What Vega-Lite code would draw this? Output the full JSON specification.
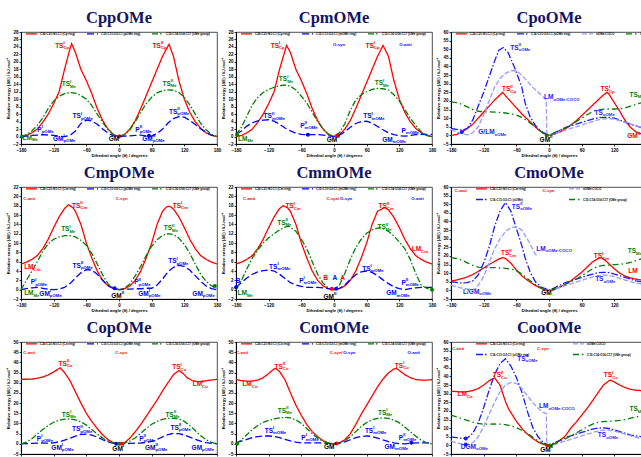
{
"$schema":"https://vega.github.io/schema/vega-lite/v6.json",
"padding":{"left":6,"top":9,"right":5,"bottom":5},
"datasets":{
"c":[
{"p":"CppOMe","x":-180,"r":0,"b":0,"g":0},{"p":"CppOMe","x":-170,"r":0.3,"b":0.1,"g":0.5},{"p":"CppOMe","x":-160,"r":1,"b":0.3,"g":1.5},{"p":"CppOMe","x":-150,"r":2,"b":0.4,"g":3},{"p":"CppOMe","x":-140,"r":3.8,"b":0.5,"g":5},{"p":"CppOMe","x":-130,"r":6,"b":0.4,"g":7.5},{"p":"CppOMe","x":-120,"r":8.8,"b":0.3,"g":9.5},{"p":"CppOMe","x":-110,"r":12,"b":0.1,"g":10.8},{"p":"CppOMe","x":-100,"r":18,"b":0,"g":11.5},{"p":"CppOMe","x":-90,"r":23.5,"b":0.3,"g":11.8},{"p":"CppOMe","x":-87,"r":24.9},{"p":"CppOMe","x":-80,"r":22.5,"b":1.5,"g":11.6},{"p":"CppOMe","x":-70,"r":18,"b":3.5,"g":11},{"p":"CppOMe","x":-60,"r":15,"b":4.4,"g":10},{"p":"CppOMe","x":-50,"r":11.5,"b":4.2,"g":8.3},{"p":"CppOMe","x":-40,"r":7.5,"b":3.3,"g":6},{"p":"CppOMe","x":-30,"r":4.3,"b":2,"g":3.8},{"p":"CppOMe","x":-20,"r":2,"b":0.9,"g":1.8},{"p":"CppOMe","x":-10,"r":0.5,"b":0.2,"g":0.5},{"p":"CppOMe","x":0,"r":0,"b":0,"g":0},{"p":"CppOMe","x":10,"r":0.5,"b":0.1,"g":0.5},{"p":"CppOMe","x":20,"r":2,"b":0.2,"g":1.8},{"p":"CppOMe","x":30,"r":4.3,"b":0.3,"g":4},{"p":"CppOMe","x":40,"r":7.5,"b":0.4,"g":6.5},{"p":"CppOMe","x":50,"r":11,"b":0.2,"g":8.8},{"p":"CppOMe","x":60,"r":14.5,"b":0.1,"g":10.5},{"p":"CppOMe","x":70,"r":18,"b":0.8,"g":11.7},{"p":"CppOMe","x":80,"r":21.5,"b":2,"g":12.3},{"p":"CppOMe","x":90,"r":24.2,"b":3.6,"g":12.5},{"p":"CppOMe","x":92,"r":24.7},{"p":"CppOMe","x":100,"r":21.5,"b":4.8,"g":12.4},{"p":"CppOMe","x":110,"r":15,"b":5.3,"g":11.8},{"p":"CppOMe","x":120,"r":10,"b":5.2,"g":10.5},{"p":"CppOMe","x":130,"r":6.5,"b":4.3,"g":8.5},{"p":"CppOMe","x":140,"r":4,"b":3.2,"g":6},{"p":"CppOMe","x":150,"r":2.2,"b":2.1,"g":3.5},{"p":"CppOMe","x":160,"r":1,"b":1.1,"g":1.8},{"p":"CppOMe","x":170,"r":0.3,"b":0.4,"g":0.6},{"p":"CppOMe","x":180,"r":0,"b":0,"g":0},

{"p":"CpmOMe","x":-180,"r":0,"b":0.6,"g":0.5},{"p":"CpmOMe","x":-170,"r":0.3,"b":1.5,"g":2.5},{"p":"CpmOMe","x":-160,"r":1,"b":2.8,"g":5.5},{"p":"CpmOMe","x":-150,"r":2,"b":3.7,"g":8.5},{"p":"CpmOMe","x":-140,"r":3.8,"b":4.2,"g":10.5},{"p":"CpmOMe","x":-130,"r":6,"b":4.4,"g":11.8},{"p":"CpmOMe","x":-120,"r":8.8,"b":4.5,"g":12.6},{"p":"CpmOMe","x":-110,"r":12,"b":4.1,"g":13.2},{"p":"CpmOMe","x":-100,"r":18,"b":3.3,"g":13.6},{"p":"CpmOMe","x":-90,"r":23,"b":2.3,"g":13.8},{"p":"CpmOMe","x":-87,"r":24.4},{"p":"CpmOMe","x":-80,"r":22.5,"b":1.5,"g":13.5},{"p":"CpmOMe","x":-70,"r":18,"b":0.9,"g":12.5},{"p":"CpmOMe","x":-60,"r":15,"b":0.6,"g":10.8},{"p":"CpmOMe","x":-50,"r":11.5,"b":0.5,"g":9},{"p":"CpmOMe","x":-40,"r":7.5,"b":0.5,"g":6.5},{"p":"CpmOMe","x":-30,"r":4.3,"b":0.5,"g":4},{"p":"CpmOMe","x":-20,"r":2,"b":0.4,"g":2},{"p":"CpmOMe","x":-10,"r":0.5,"b":0.2,"g":0.6},{"p":"CpmOMe","x":0,"r":0,"b":0,"g":0},{"p":"CpmOMe","x":10,"r":0.5,"b":0.4,"g":1},{"p":"CpmOMe","x":20,"r":2,"b":1.3,"g":3.5},{"p":"CpmOMe","x":30,"r":4.3,"b":2.5,"g":7},{"p":"CpmOMe","x":40,"r":7.5,"b":3.5,"g":9.8},{"p":"CpmOMe","x":50,"r":11,"b":4,"g":11.2},{"p":"CpmOMe","x":60,"r":14.5,"b":4.1,"g":12},{"p":"CpmOMe","x":70,"r":18,"b":3.6,"g":12.6},{"p":"CpmOMe","x":80,"r":21.5,"b":2.7,"g":12.9},{"p":"CpmOMe","x":90,"r":24.4,"b":1.8,"g":12.8},{"p":"CpmOMe","x":100,"r":21.5,"b":1,"g":12.5},{"p":"CpmOMe","x":110,"r":15,"b":0.5,"g":11.2},{"p":"CpmOMe","x":120,"r":10,"b":0.2,"g":9.5},{"p":"CpmOMe","x":130,"r":6.5,"b":0.1,"g":7.2},{"p":"CpmOMe","x":140,"r":4,"b":0.3,"g":5},{"p":"CpmOMe","x":150,"r":2.2,"b":0.5,"g":3},{"p":"CpmOMe","x":160,"r":1,"b":0.6,"g":1.3},{"p":"CpmOMe","x":170,"r":0.3,"b":0.6,"g":0.3},{"p":"CpmOMe","x":180,"r":0,"b":0.6,"g":0},

{"p":"CpoOMe","x":-180,"r":0,"b":4,"l":3.5,"g":19.5},{"p":"CpoOMe","x":-170,"r":0.5,"b":3.5,"l":2,"g":19},{"p":"CpoOMe","x":-160,"r":2,"b":3,"l":1,"g":18},{"p":"CpoOMe","x":-150,"r":4,"b":4,"l":0.3,"g":16.5},{"p":"CpoOMe","x":-140,"r":6.5,"b":9,"l":1.5,"g":15},{"p":"CpoOMe","x":-130,"r":10,"b":17,"l":5,"g":14},{"p":"CpoOMe","x":-120,"r":13.5,"b":25,"l":12,"g":13.7},{"p":"CpoOMe","x":-110,"r":17,"b":34,"l":20,"g":13.6},{"p":"CpoOMe","x":-100,"r":20.5,"b":43,"l":28,"g":13.5},{"p":"CpoOMe","x":-92,"b":49.5},{"p":"CpoOMe","x":-90,"r":23.5,"l":33,"g":13.3},{"p":"CpoOMe","x":-85,"r":25},{"p":"CpoOMe","x":-84,"b":51},{"p":"CpoOMe","x":-80,"r":23,"l":36,"g":13},{"p":"CpoOMe","x":-75,"b":48},{"p":"CpoOMe","x":-70,"r":19.5,"l":37.5,"g":12.5},{"p":"CpoOMe","x":-62,"b":38.4},{"p":"CpoOMe","x":-60,"r":16,"l":37.5,"g":11.8},{"p":"CpoOMe","x":-50,"r":12.5,"b":28,"l":35,"g":10.5},{"p":"CpoOMe","x":-44,"b":19},{"p":"CpoOMe","x":-40,"r":9.5,"l":31.5,"g":8.5},{"p":"CpoOMe","x":-35,"b":11},{"p":"CpoOMe","x":-30,"r":6.5,"l":28,"g":6},{"p":"CpoOMe","x":-25,"b":5.8},{"p":"CpoOMe","x":-20,"r":3.5,"l":25,"g":3.5},{"p":"CpoOMe","x":-15,"b":2.5},{"p":"CpoOMe","x":-10,"r":1.2,"l":22,"g":1.2},{"p":"CpoOMe","x":-7,"b":1},{"p":"CpoOMe","x":-5,"l":20.5},{"p":"CpoOMe","x":-4,"l":0.3},{"p":"CpoOMe","x":0,"r":0,"b":0,"l":0,"g":0},{"p":"CpoOMe","x":10,"r":0.8,"b":1.5,"l":1,"g":1.5},{"p":"CpoOMe","x":20,"r":2,"b":3,"l":2,"g":3},{"p":"CpoOMe","x":30,"r":3.8,"b":4.5,"l":3,"g":4.5},{"p":"CpoOMe","x":40,"r":6,"b":5.5,"l":4,"g":6},{"p":"CpoOMe","x":50,"r":8.5,"b":6.5,"l":5,"g":8},{"p":"CpoOMe","x":60,"r":11.5,"b":7.5,"l":6,"g":10},{"p":"CpoOMe","x":70,"r":14.5,"b":8.5,"l":7,"g":12},{"p":"CpoOMe","x":80,"r":17.5,"b":9.5,"l":8,"g":13.8},{"p":"CpoOMe","x":90,"r":20.5,"b":10.2,"l":9,"g":14.8},{"p":"CpoOMe","x":100,"r":23.5,"b":10.5,"l":9.5,"g":15.2},{"p":"CpoOMe","x":107,"r":25},{"p":"CpoOMe","x":110,"r":24,"b":10.5,"l":9.8,"g":15.3},{"p":"CpoOMe","x":120,"r":19,"b":10,"l":9.5,"g":15.3},{"p":"CpoOMe","x":130,"r":14,"b":9,"l":8.5,"g":15.5},{"p":"CpoOMe","x":140,"r":8.5,"b":7.5,"l":7.5,"g":16},{"p":"CpoOMe","x":150,"r":4.5,"b":6.5,"l":6.5,"g":17},{"p":"CpoOMe","x":160,"r":2,"b":5.5,"l":5.5,"g":18},{"p":"CpoOMe","x":170,"r":0.8,"b":4.5,"l":4.5,"g":19},{"p":"CpoOMe","x":180,"r":0.3,"b":4,"l":4,"g":19.5},

{"p":"CmpOMe","x":-180,"r":5.5,"b":0,"g":0},{"p":"CmpOMe","x":-170,"r":5.9,"b":0.2,"g":2},{"p":"CmpOMe","x":-160,"r":6.5,"b":0.4,"g":4},{"p":"CmpOMe","x":-150,"r":7.3,"b":0.5,"g":6},{"p":"CmpOMe","x":-140,"r":8.8,"b":0.3,"g":8.2},{"p":"CmpOMe","x":-130,"r":10.8,"b":0.1,"g":9.8},{"p":"CmpOMe","x":-120,"r":13.3,"b":0,"g":10.8},{"p":"CmpOMe","x":-110,"r":15.6,"b":0.1,"g":11.3},{"p":"CmpOMe","x":-100,"r":17.4,"b":0.5,"g":11.6},{"p":"CmpOMe","x":-93,"r":18.2},{"p":"CmpOMe","x":-90,"b":1.3,"g":11.6},{"p":"CmpOMe","x":-85,"r":17.6},{"p":"CmpOMe","x":-80,"r":16.8,"b":2.5,"g":11.3},{"p":"CmpOMe","x":-70,"r":14,"b":3.6,"g":10.6},{"p":"CmpOMe","x":-60,"r":10,"b":4.3,"g":9.5},{"p":"CmpOMe","x":-50,"r":6.8,"b":4.2,"g":7.8},{"p":"CmpOMe","x":-40,"r":4,"b":3.3,"g":5.5},{"p":"CmpOMe","x":-30,"r":2,"b":2,"g":3.2},{"p":"CmpOMe","x":-20,"r":0.8,"b":0.9,"g":1.2},{"p":"CmpOMe","x":-10,"r":0.2,"b":0.3,"g":0.3},{"p":"CmpOMe","x":0,"r":0,"b":0,"g":0},{"p":"CmpOMe","x":10,"r":0.2,"b":0.1,"g":0.3},{"p":"CmpOMe","x":20,"r":0.8,"b":0.1,"g":1.2},{"p":"CmpOMe","x":30,"r":2,"b":0.2,"g":3},{"p":"CmpOMe","x":40,"r":4,"b":0.2,"g":5},{"p":"CmpOMe","x":50,"r":6.8,"b":0.3,"g":7.3},{"p":"CmpOMe","x":60,"r":10,"b":0.3,"g":9.3},{"p":"CmpOMe","x":70,"r":14,"b":1,"g":10.7},{"p":"CmpOMe","x":80,"r":16.8,"b":2.3,"g":11.6},{"p":"CmpOMe","x":87,"r":17.7},{"p":"CmpOMe","x":90,"b":3.8,"g":12},{"p":"CmpOMe","x":93,"r":17.9},{"p":"CmpOMe","x":100,"r":17.3,"b":4.8,"g":11.8},{"p":"CmpOMe","x":110,"r":15.6,"b":5.2,"g":11},{"p":"CmpOMe","x":120,"r":13.3,"b":5,"g":9.7},{"p":"CmpOMe","x":130,"r":10.8,"b":4.2,"g":7.8},{"p":"CmpOMe","x":140,"r":8.8,"b":3,"g":5.5},{"p":"CmpOMe","x":150,"r":7.3,"b":1.8,"g":3.3},{"p":"CmpOMe","x":160,"r":6.5,"b":0.8,"g":1.8},{"p":"CmpOMe","x":170,"r":5.9,"b":0.2,"g":0.8},{"p":"CmpOMe","x":180,"r":5.5,"b":0,"g":0.3},

{"p":"CmmOMe","x":-180,"r":5.5,"b":0.5,"g":0},{"p":"CmmOMe","x":-170,"r":5.9,"b":1.5,"g":2},{"p":"CmmOMe","x":-160,"r":6.5,"b":2.5,"g":4.5},{"p":"CmmOMe","x":-150,"r":7.3,"b":3.3,"g":6.8},{"p":"CmmOMe","x":-140,"r":8.8,"b":3.8,"g":8.5},{"p":"CmmOMe","x":-130,"r":10.8,"b":4.1,"g":10},{"p":"CmmOMe","x":-120,"r":13.3,"b":4.2,"g":11.1},{"p":"CmmOMe","x":-110,"r":15.6,"b":4,"g":12},{"p":"CmmOMe","x":-100,"r":17.4,"b":3.3,"g":12.8},{"p":"CmmOMe","x":-93,"r":18},{"p":"CmmOMe","x":-90,"b":2.4,"g":13.4},{"p":"CmmOMe","x":-85,"r":17.5},{"p":"CmmOMe","x":-83,"g":13.6},{"p":"CmmOMe","x":-80,"r":16.8,"b":1.5},{"p":"CmmOMe","x":-70,"r":14,"b":1,"g":12.5},{"p":"CmmOMe","x":-60,"r":10,"b":0.7,"g":10.8},{"p":"CmmOMe","x":-50,"r":6.8,"b":0.5,"g":8.8},{"p":"CmmOMe","x":-40,"r":4,"b":0.5,"g":6},{"p":"CmmOMe","x":-30,"r":2,"b":0.5,"g":3.3},{"p":"CmmOMe","x":-20,"r":0.8,"b":0.4,"g":1.4},{"p":"CmmOMe","x":-10,"r":0.2,"b":0.2,"g":0.3},{"p":"CmmOMe","x":0,"r":0,"b":0,"g":0},{"p":"CmmOMe","x":10,"r":0.2,"b":0.3,"g":1},{"p":"CmmOMe","x":20,"r":0.8,"b":1,"g":3.5},{"p":"CmmOMe","x":30,"r":2,"b":2.2,"g":6.5},{"p":"CmmOMe","x":40,"r":4,"b":3.2,"g":9},{"p":"CmmOMe","x":50,"r":6.8,"b":3.8,"g":10.8},{"p":"CmmOMe","x":60,"r":10,"b":4,"g":12.1},{"p":"CmmOMe","x":70,"r":14,"b":3.7,"g":12.8},{"p":"CmmOMe","x":80,"r":16.8,"b":3,"g":13.2},{"p":"CmmOMe","x":85,"g":13.3},{"p":"CmmOMe","x":90,"b":2.1,"g":13.1},{"p":"CmmOMe","x":93,"r":17.6},{"p":"CmmOMe","x":100,"r":17.1,"b":1.3,"g":12.5},{"p":"CmmOMe","x":110,"r":15.5,"b":0.6,"g":11.5},{"p":"CmmOMe","x":120,"r":13.3,"b":0.2,"g":10.2},{"p":"CmmOMe","x":130,"r":10.8,"b":0,"g":8.8},{"p":"CmmOMe","x":140,"r":8.8,"b":0.2,"g":6.5},{"p":"CmmOMe","x":150,"r":7.3,"b":0.4,"g":3.5},{"p":"CmmOMe","x":160,"r":6.5,"b":0.5,"g":1},{"p":"CmmOMe","x":170,"r":5.9,"b":0.5,"g":0.3},{"p":"CmmOMe","x":180,"r":5.5,"b":0.5,"g":0},

{"p":"CmoOMe","x":-180,"r":5.5,"b":5,"l":3,"g":19},{"p":"CmoOMe","x":-170,"r":6,"b":4.6,"l":2,"g":18.5},{"p":"CmoOMe","x":-160,"r":6.8,"b":4.3,"l":1.3,"g":17.5},{"p":"CmoOMe","x":-150,"r":7.8,"b":4.5,"l":0.8,"g":16},{"p":"CmoOMe","x":-140,"r":9.2,"b":5.5,"l":0.5,"g":14.5},{"p":"CmoOMe","x":-135,"l":1},{"p":"CmoOMe","x":-130,"r":11,"b":9,"l":3,"g":13.5},{"p":"CmoOMe","x":-120,"r":13,"b":16,"l":8,"g":13.2},{"p":"CmoOMe","x":-110,"r":15,"b":25,"l":16,"g":13.2},{"p":"CmoOMe","x":-100,"r":16.8,"b":37,"l":24,"g":13.2},{"p":"CmoOMe","x":-90,"r":18.5,"b":46,"l":30,"g":13},{"p":"CmoOMe","x":-85,"r":19},{"p":"CmoOMe","x":-80,"r":18.5,"b":51,"l":34,"g":12.8},{"p":"CmoOMe","x":-70,"r":15.8,"b":46,"l":36.5,"g":12.3},{"p":"CmoOMe","x":-60,"r":11.8,"b":36,"l":37,"g":11.5},{"p":"CmoOMe","x":-50,"r":8.5,"b":26,"l":35,"g":9.5},{"p":"CmoOMe","x":-44,"b":19},{"p":"CmoOMe","x":-40,"r":6,"l":30,"g":7},{"p":"CmoOMe","x":-35,"b":11,"l":27},{"p":"CmoOMe","x":-30,"r":3.8,"l":24,"g":4.5},{"p":"CmoOMe","x":-25,"b":5,"l":21},{"p":"CmoOMe","x":-22,"l":20},{"p":"CmoOMe","x":-20,"r":2,"g":2.2},{"p":"CmoOMe","x":-15,"b":2},{"p":"CmoOMe","x":-10,"r":0.6,"g":0.7},{"p":"CmoOMe","x":-5,"b":0.8},{"p":"CmoOMe","x":0,"r":0,"b":0,"g":0,"l2":0},{"p":"CmoOMe","x":10,"r":0.6,"b":1.5,"g":1,"l2":0.8},{"p":"CmoOMe","x":20,"r":1.8,"b":3,"g":2.2,"l2":1.8},{"p":"CmoOMe","x":30,"r":3.5,"b":4.5,"g":3.5,"l2":2.8},{"p":"CmoOMe","x":40,"r":5.5,"b":5.5,"g":5,"l2":3.8},{"p":"CmoOMe","x":50,"r":8,"b":6.5,"g":6.5,"l2":4.8},{"p":"CmoOMe","x":60,"r":10.5,"b":7.5,"g":8.5,"l2":5.8},{"p":"CmoOMe","x":70,"r":13.5,"b":8.5,"g":10.5,"l2":6.8},{"p":"CmoOMe","x":80,"r":16.5,"b":9.5,"g":12.5,"l2":7.8},{"p":"CmoOMe","x":90,"r":18.5,"b":10.3,"g":14,"l2":8.5},{"p":"CmoOMe","x":95,"r":19},{"p":"CmoOMe","x":100,"r":18.3,"b":10.5,"g":14.5,"l2":9},{"p":"CmoOMe","x":110,"r":15.5,"b":10.3,"g":14.7,"l2":8.7},{"p":"CmoOMe","x":120,"r":12.5,"b":9.5,"g":15,"l2":8},{"p":"CmoOMe","x":130,"r":10,"b":8.5,"g":15.2,"l2":7},{"p":"CmoOMe","x":140,"r":8.3,"b":7.5,"g":15.5,"l2":6},{"p":"CmoOMe","x":150,"r":7.2,"b":6.5,"g":16.3,"l2":5},{"p":"CmoOMe","x":160,"r":6.5,"b":5.5,"g":17.3,"l2":4.3},{"p":"CmoOMe","x":170,"r":6,"b":5,"g":18.3,"l2":3.8},{"p":"CmoOMe","x":180,"r":5.8,"b":4.5,"g":19,"l2":3.5},

{"p":"CopOMe","x":-180,"r":31.7,"b":0,"g":0},{"p":"CopOMe","x":-170,"r":31.7,"b":0.1,"g":0.8},{"p":"CopOMe","x":-160,"r":31.8,"b":0.2,"g":2.5},{"p":"CopOMe","x":-150,"r":32.2,"b":0.3,"g":4.8},{"p":"CopOMe","x":-140,"r":32.8,"b":0.3,"g":7},{"p":"CopOMe","x":-130,"r":33.8,"b":0.3,"g":9},{"p":"CopOMe","x":-120,"r":35.3,"b":0.5,"g":10.6},{"p":"CopOMe","x":-110,"b":1,"g":11.6},{"p":"CopOMe","x":-108,"r":37.3},{"p":"CopOMe","x":-100,"r":35,"b":1.8,"g":12.1},{"p":"CopOMe","x":-90,"r":31,"b":2.8,"g":12.2},{"p":"CopOMe","x":-80,"r":25.5,"b":3.8,"g":11.8},{"p":"CopOMe","x":-70,"r":20,"b":4.6,"g":10.8},{"p":"CopOMe","x":-60,"r":15,"b":4.8,"g":9.2},{"p":"CopOMe","x":-50,"r":11,"b":4.3,"g":7},{"p":"CopOMe","x":-40,"r":7.5,"b":3.3,"g":4.8},{"p":"CopOMe","x":-30,"r":4.4,"b":2,"g":2.8},{"p":"CopOMe","x":-20,"r":2,"b":0.9,"g":1.2},{"p":"CopOMe","x":-10,"r":0.5,"b":0.2,"g":0.3},{"p":"CopOMe","x":0,"r":0,"b":0,"g":0},{"p":"CopOMe","x":10,"r":0.5,"b":0.1,"g":0.3},{"p":"CopOMe","x":20,"r":2.8,"b":0.2,"g":1.3},{"p":"CopOMe","x":30,"r":6,"b":0.3,"g":3},{"p":"CopOMe","x":40,"r":9.5,"b":0.4,"g":5.2},{"p":"CopOMe","x":50,"r":13.5,"b":0.6,"g":7.5},{"p":"CopOMe","x":60,"r":17.5,"b":1.2,"g":9.6},{"p":"CopOMe","x":70,"r":21.5,"b":2.2,"g":11},{"p":"CopOMe","x":80,"r":26,"b":3.4,"g":12},{"p":"CopOMe","x":90,"r":30,"b":4.5,"g":12.5},{"p":"CopOMe","x":100,"r":34,"b":5.1,"g":12.6},{"p":"CopOMe","x":110,"r":36,"b":5,"g":12.2},{"p":"CopOMe","x":118,"r":34.5},{"p":"CopOMe","x":120,"b":4.3,"g":11},{"p":"CopOMe","x":125,"r":32.5},{"p":"CopOMe","x":130,"b":3.3,"g":9},{"p":"CopOMe","x":135,"r":31},{"p":"CopOMe","x":140,"b":2.2,"g":6.5},{"p":"CopOMe","x":145,"r":30.5},{"p":"CopOMe","x":150,"b":1.3,"g":4},{"p":"CopOMe","x":155,"r":30.7},{"p":"CopOMe","x":160,"b":0.6,"g":2},{"p":"CopOMe","x":165,"r":31.2},{"p":"CopOMe","x":170,"b":0.2,"g":0.7},{"p":"CopOMe","x":180,"r":31.7,"b":0,"g":0},

{"p":"ComOMe","x":-180,"r":31.7,"b":0.5,"g":0},{"p":"ComOMe","x":-170,"r":31,"b":1.3,"g":2},{"p":"ComOMe","x":-160,"r":30.8,"b":2.2,"g":4.5},{"p":"ComOMe","x":-150,"r":30.8,"b":3,"g":7},{"p":"ComOMe","x":-140,"r":31.3,"b":3.5,"g":9},{"p":"ComOMe","x":-130,"r":32.5,"b":3.8,"g":10.5},{"p":"ComOMe","x":-120,"r":34.5,"b":3.9,"g":11.5},{"p":"ComOMe","x":-110,"r":36.8,"b":3.6,"g":12.2},{"p":"ComOMe","x":-107,"r":37},{"p":"ComOMe","x":-100,"r":35.5,"b":3,"g":12.7},{"p":"ComOMe","x":-90,"r":31.5,"b":2.2,"g":13},{"p":"ComOMe","x":-80,"r":25,"b":1.4,"g":12.7},{"p":"ComOMe","x":-70,"r":19,"b":0.8,"g":11.8},{"p":"ComOMe","x":-60,"r":14,"b":0.5,"g":10},{"p":"ComOMe","x":-50,"r":9.5,"b":0.5,"g":7.5},{"p":"ComOMe","x":-40,"r":6,"b":0.5,"g":5},{"p":"ComOMe","x":-30,"r":3.5,"b":0.5,"g":2.8},{"p":"ComOMe","x":-20,"r":1.5,"b":0.4,"g":1.2},{"p":"ComOMe","x":-10,"r":0.3,"b":0.2,"g":0.3},{"p":"ComOMe","x":0,"r":0,"b":0,"g":0},{"p":"ComOMe","x":10,"r":0.5,"b":0.3,"g":0.4},{"p":"ComOMe","x":20,"r":2,"b":1,"g":1.5},{"p":"ComOMe","x":30,"r":5,"b":2,"g":3.5},{"p":"ComOMe","x":40,"r":9.5,"b":3,"g":6},{"p":"ComOMe","x":50,"r":14.5,"b":3.6,"g":8.5},{"p":"ComOMe","x":60,"r":19,"b":3.9,"g":10.5},{"p":"ComOMe","x":70,"r":23.5,"b":3.6,"g":11.8},{"p":"ComOMe","x":80,"r":28,"b":2.8,"g":12.5},{"p":"ComOMe","x":90,"r":31.8,"b":1.9,"g":12.8},{"p":"ComOMe","x":100,"r":34.8,"b":1.1,"g":12.5},{"p":"ComOMe","x":110,"r":36.8,"b":0.5,"g":11.7},{"p":"ComOMe","x":115,"r":37},{"p":"ComOMe","x":120,"r":36,"b":0.1,"g":10.3},{"p":"ComOMe","x":130,"r":34,"b":0,"g":8.3},{"p":"ComOMe","x":140,"r":32.5,"b":0.3,"g":6},{"p":"ComOMe","x":150,"r":31.6,"b":0.5,"g":3.8},{"p":"ComOMe","x":160,"r":31.3,"b":0.5,"g":1.8},{"p":"ComOMe","x":170,"r":31.3,"b":0.5,"g":0.5},{"p":"ComOMe","x":180,"r":31.5,"b":0.5,"g":0},

{"p":"CooOMe","x":-180,"r":31.5,"b":5,"l":2.5,"g":17.5},{"p":"CooOMe","x":-170,"r":31.2,"b":4.5,"l":1.5,"g":16.5},{"p":"CooOMe","x":-160,"r":31,"b":4,"l":0.8,"g":15.5},{"p":"CooOMe","x":-150,"r":31.2,"b":4.3,"l":0.3,"g":14.5},{"p":"CooOMe","x":-140,"r":31.8,"b":7,"l":1.5,"g":13.5},{"p":"CooOMe","x":-130,"r":33,"b":13,"l":5,"g":12.8},{"p":"CooOMe","x":-120,"r":35,"b":22,"l":11,"g":12.3},{"p":"CooOMe","x":-110,"r":37.5,"b":32,"l":18,"g":12.3},{"p":"CooOMe","x":-100,"r":39.2,"b":41,"l":25,"g":12.4},{"p":"CooOMe","x":-90,"r":35,"b":47.5,"l":31,"g":12.3},{"p":"CooOMe","x":-80,"r":25.5,"b":50.3,"l":35,"g":12},{"p":"CooOMe","x":-74,"r":21},{"p":"CooOMe","x":-70,"b":46,"l":36.5,"g":11.3},{"p":"CooOMe","x":-60,"r":14,"b":39.5,"l":36,"g":10.3},{"p":"CooOMe","x":-50,"r":10,"b":31,"l":33,"g":8.8},{"p":"CooOMe","x":-44,"r":7.8},{"p":"CooOMe","x":-40,"b":20,"l":29,"g":7},{"p":"CooOMe","x":-30,"r":4,"b":10.5,"l":25,"g":4.8},{"p":"CooOMe","x":-20,"r":2,"b":5,"l":21.5,"g":2.6},{"p":"CooOMe","x":-10,"r":0.5,"b":1.5,"l":19,"g":0.8},{"p":"CooOMe","x":-5,"l":18.5},{"p":"CooOMe","x":-4,"l":0.3},{"p":"CooOMe","x":0,"r":0,"b":0,"l":0,"g":0},{"p":"CooOMe","x":10,"r":0.8,"b":1.5,"l":0.5,"g":1},{"p":"CooOMe","x":20,"r":2.8,"b":3,"l":1.5,"g":2.3},{"p":"CooOMe","x":30,"r":5.5,"b":4.5,"l":2.5,"g":3.8},{"p":"CooOMe","x":40,"r":10,"b":5.5,"l":3.5,"g":5.5},{"p":"CooOMe","x":50,"r":13.5,"b":6.5,"l":4.5,"g":7.2},{"p":"CooOMe","x":60,"r":17.5,"b":7.5,"l":5.5,"g":9},{"p":"CooOMe","x":70,"r":21.5,"b":8.5,"l":6.5,"g":10.8},{"p":"CooOMe","x":78,"r":25},{"p":"CooOMe","x":80,"b":9.5,"l":7.5,"g":12.3},{"p":"CooOMe","x":90,"r":30.5,"b":10,"l":8.3,"g":13.3},{"p":"CooOMe","x":100,"r":35,"b":10.2,"l":8.8,"g":13.8},{"p":"CooOMe","x":110,"r":37.5,"b":9.8,"l":8.8,"g":14},{"p":"CooOMe","x":113,"r":37.8},{"p":"CooOMe","x":120,"r":36.8,"b":9,"l":8.3,"g":14.2},{"p":"CooOMe","x":130,"r":35,"b":8,"l":7.5,"g":14.5},{"p":"CooOMe","x":140,"r":33.5,"b":7,"l":6.5,"g":15},{"p":"CooOMe","x":150,"r":32.5,"b":6,"l":5.5,"g":15.8},{"p":"CooOMe","x":160,"r":32,"b":5.5,"l":4.7,"g":16.5},{"p":"CooOMe","x":170,"r":31.8,"b":5,"l":4,"g":17.3},{"p":"CooOMe","x":180,"r":31.7,"b":4.5,"l":3.5,"g":18}
],
"d":[
{"p":"CppOMe","s":"g","x":-178,"y":0},{"p":"CppOMe","s":"r","x":0,"y":0},{"p":"CppOMe","s":"b","x":55,"y":0.2},
{"p":"CpmOMe","s":"g","x":-178,"y":0.5},{"p":"CpmOMe","s":"r","x":6,"y":0.3},{"p":"CpmOMe","s":"b","x":-48,"y":0.5},
{"p":"CpoOMe","s":"b","x":-160,"y":2},{"p":"CpoOMe","s":"g","x":-4,"y":0},
{"p":"CmpOMe","s":"b","x":-8,"y":0.3},{"p":"CmpOMe","s":"g","x":176,"y":0.8},
{"p":"CmmOMe","s":"b","x":-180,"y":0.5},{"p":"CmmOMe","s":"r","x":-4,"y":0.2},{"p":"CmmOMe","s":"b","x":4,"y":0.2},{"p":"CmmOMe","s":"g","x":180,"y":0},
{"p":"CopOMe","s":"b","x":-5,"y":0},{"p":"CopOMe","s":"g","x":0,"y":0},{"p":"CopOMe","s":"r","x":5,"y":0},
{"p":"ComOMe","s":"g","x":-178,"y":0},{"p":"ComOMe","s":"r","x":5,"y":0.2},{"p":"ComOMe","s":"b","x":142,"y":0.5},
{"p":"CooOMe","s":"b","x":-153,"y":4},{"p":"CooOMe","s":"b","x":-153,"y":0.5},{"p":"CooOMe","s":"r","x":-3,"y":0},{"p":"CooOMe","s":"g","x":2,"y":0}
],
"t":[
{"p":"CppOMe","s":"r","x":-102,"y":24.3,"t":"TS","sub":"Cp","sup":"I"},{"p":"CppOMe","s":"r","x":77,"y":24.3,"t":"TS","sub":"Cp","sup":"II"},{"p":"CppOMe","s":"g","x":-90,"y":14,"t":"TS","sub":"Me","sup":"I"},{"p":"CppOMe","s":"g","x":95,"y":14.2,"t":"TS","sub":"Me","sup":"II"},{"p":"CppOMe","s":"b","x":-70,"y":5.5,"t":"TS","sub":"pOMe","sup":"I"},{"p":"CppOMe","s":"b","x":107,"y":6.7,"t":"TS","sub":"pOMe","sup":"II"},{"p":"CppOMe","s":"b","x":-142,"y":1.8,"t":"P","sub":"pOMe","sup":"I"},{"p":"CppOMe","s":"b","x":38,"y":1.8,"t":"P","sub":"pOMe","sup":"II"},{"p":"CppOMe","s":"b","x":-102,"y":-0.6,"t":"GM","sub":"pOMe","sup":"I"},{"p":"CppOMe","s":"b","x":62,"y":-0.6,"t":"GM","sub":"pOMe","sup":"II"},{"p":"CppOMe","s":"g","x":-160,"y":-0.3,"t":"LM","sub":"Me","sup":""},{"p":"CppOMe","s":"k","x":0.5,"y":-0.6,"t":"GM","sub":"","sup":"I"},

{"p":"CpmOMe","s":"r","x":-101,"y":24.3,"t":"TS","sub":"Cp","sup":"I"},{"p":"CpmOMe","s":"r","x":73,"y":24.3,"t":"TS","sub":"Cp","sup":"I"},{"p":"CpmOMe","s":"g","x":-86,"y":15.3,"t":"TS","sub":"Me","sup":"I"},{"p":"CpmOMe","s":"g","x":90,"y":14.3,"t":"TS","sub":"Me","sup":"I"},{"p":"CpmOMe","s":"b","x":-114,"y":5.5,"t":"TS","sub":"mOMe","sup":"II"},{"p":"CpmOMe","s":"b","x":69,"y":5.4,"t":"TS","sub":"mOMe","sup":"I"},{"p":"CpmOMe","s":"b","x":-54,"y":2.9,"t":"P","sub":"mOMe","sup":"II"},{"p":"CpmOMe","s":"b","x":132,"y":1.6,"t":"P","sub":"mOMe","sup":""},{"p":"CpmOMe","s":"b","x":108,"y":-0.8,"t":"GM","sub":"mOMe","sup":""},{"p":"CpmOMe","s":"g","x":-159,"y":-0.6,"t":"LM","sub":"Me","sup":""},{"p":"CpmOMe","s":"k","x":6,"y":-0.8,"t":"GM","sub":"","sup":"II"},{"p":"CpmOMe","s":"b","x":-2,"y":25.2,"t":"","sub":"O-syn","sup":""},{"p":"CpmOMe","s":"b","x":120,"y":25.2,"t":"","sub":"O-anti","sup":""},

{"p":"CpoOMe","s":"b","x":-56,"y":50.8,"t":"TS","sub":"oOMe","sup":"II"},{"p":"CpoOMe","s":"r","x":-71,"y":26.8,"t":"TS","sub":"Cp","sup":"II"},{"p":"CpoOMe","s":"r","x":110,"y":26.8,"t":"TS","sub":"Cp","sup":"I"},{"p":"CpoOMe","s":"b","x":8,"y":22,"t":"LM","sub":"oOMe:COCO","sup":""},{"p":"CpoOMe","s":"b","x":-100,"y":1.9,"t":"G/LM","sub":"oOMe","sup":""},{"p":"CpoOMe","s":"b","x":99,"y":13,"t":"TS","sub":"oOMe","sup":""},{"p":"CpoOMe","s":"g","x":163,"y":23.5,"t":"TS","sub":"Me","sup":""},{"p":"CpoOMe","s":"r","x":163,"y":-0.4,"t":"GM","sub":"","sup":"II"},{"p":"CpoOMe","s":"k","x":2,"y":-2.4,"t":"GM","sub":"","sup":"II"},

{"p":"CmpOMe","s":"r","x":-176,"y":20,"t":"","sub":"C-anti","sup":""},{"p":"CmpOMe","s":"r","x":-6,"y":20,"t":"","sub":"C-syn","sup":""},{"p":"CmpOMe","s":"r","x":-71,"y":18,"t":"TS","sub":"Cm","sup":"II"},{"p":"CmpOMe","s":"r","x":114,"y":18,"t":"TS","sub":"Cm","sup":"I"},{"p":"CmpOMe","s":"g","x":-91,"y":12.9,"t":"TS","sub":"Me","sup":"I"},{"p":"CmpOMe","s":"g","x":97.5,"y":13.2,"t":"TS","sub":"Me","sup":"II"},{"p":"CmpOMe","s":"b","x":-70,"y":5.1,"t":"TS","sub":"pOMe","sup":"II"},{"p":"CmpOMe","s":"b","x":105.6,"y":6.1,"t":"TS","sub":"pOMe","sup":"I"},{"p":"CmpOMe","s":"r","x":-157,"y":4.8,"t":"LM","sub":"Cm","sup":""},{"p":"CmpOMe","s":"b","x":-154,"y":1.6,"t":"P","sub":"pOMe","sup":"I"},{"p":"CmpOMe","s":"b","x":36,"y":1.6,"t":"P","sub":"pOMe","sup":"II"},{"p":"CmpOMe","s":"g","x":-157,"y":-0.8,"t":"LM","sub":"Me","sup":""},{"p":"CmpOMe","s":"b","x":-127,"y":-0.9,"t":"GM","sub":"pOMe","sup":"I"},{"p":"CmpOMe","s":"b","x":54.5,"y":-0.9,"t":"GM","sub":"pOMe","sup":"I"},{"p":"CmpOMe","s":"b","x":154,"y":-0.9,"t":"GM","sub":"pOMe","sup":""},{"p":"CmpOMe","s":"k","x":5,"y":-1.3,"t":"GM","sub":"","sup":"II"},

{"p":"CmmOMe","s":"r","x":-167,"y":20,"t":"","sub":"C-anti","sup":""},{"p":"CmmOMe","s":"r","x":-14,"y":20,"t":"","sub":"C-syn/","sup":""},{"p":"CmmOMe","s":"b","x":11,"y":20,"t":"","sub":"O-syn","sup":""},{"p":"CmmOMe","s":"b","x":142,"y":20,"t":"","sub":"O-anti","sup":""},{"p":"CmmOMe","s":"r","x":-74,"y":17.9,"t":"TS","sub":"Cm","sup":"I"},{"p":"CmmOMe","s":"r","x":97,"y":17.9,"t":"TS","sub":"Cm","sup":"II"},{"p":"CmmOMe","s":"g","x":-89,"y":14.3,"t":"TS","sub":"Me","sup":"II"},{"p":"CmmOMe","s":"g","x":95,"y":13.4,"t":"TS","sub":"Me","sup":"II"},{"p":"CmmOMe","s":"r","x":160,"y":8.7,"t":"LM","sub":"Cm","sup":""},{"p":"CmmOMe","s":"b","x":-104,"y":4.9,"t":"TS","sub":"mOMe","sup":"I"},{"p":"CmmOMe","s":"b","x":67,"y":4.5,"t":"TS","sub":"mOMe","sup":"I"},{"p":"CmmOMe","s":"b","x":-56,"y":1.9,"t":"P","sub":"mOMe","sup":"I"},{"p":"CmmOMe","s":"b","x":132,"y":1.5,"t":"P","sub":"mOMe","sup":"II"},{"p":"CmmOMe","s":"b","x":115,"y":-0.8,"t":"GM","sub":"mOMe","sup":""},{"p":"CmmOMe","s":"g","x":-160,"y":-0.8,"t":"LM","sub":"Me","sup":""},{"p":"CmmOMe","s":"k","x":0,"y":-1.5,"t":"GM","sub":"","sup":"II"},{"p":"CmmOMe","s":"r","x":-11,"y":2.5,"t":"B","sub":"","sup":""},{"p":"CmmOMe","s":"b","x":6,"y":2.5,"t":"A","sub":"","sup":""},{"p":"CmmOMe","s":"r","x":20,"y":2.5,"t":"A","sub":"","sup":""},{"p":"CmmOMe","s":"b","x":-172,"y":1.8,"t":"B","sub":"","sup":""},

{"p":"CmoOMe","s":"r","x":-173,"y":59,"t":"","sub":"C-anti","sup":""},{"p":"CmoOMe","s":"r","x":-12,"y":59,"t":"","sub":"C-syn","sup":""},{"p":"CmoOMe","s":"b","x":-53,"y":48.5,"t":"TS","sub":"oOMe","sup":"II"},{"p":"CmoOMe","s":"b","x":-6,"y":24.2,"t":"LM","sub":"oOMe:COCO","sup":""},{"p":"CmoOMe","s":"r","x":-73,"y":21.5,"t":"TS","sub":"Cm","sup":"II"},{"p":"CmoOMe","s":"r","x":97.5,"y":19.8,"t":"TS","sub":"Cm","sup":"I"},{"p":"CmoOMe","s":"g","x":160,"y":22.7,"t":"TS","sub":"Me","sup":""},{"p":"CmoOMe","s":"r","x":163,"y":11,"t":"LM","sub":"","sup":""},{"p":"CmoOMe","s":"b","x":100,"y":6.5,"t":"TS","sub":"oOMe","sup":""},{"p":"CmoOMe","s":"b","x":-128,"y":-0.7,"t":"L/GM","sub":"oOMe","sup":""},{"p":"CmoOMe","s":"k","x":5,"y":-1.5,"t":"GM","sub":"","sup":"II"},

{"p":"CopOMe","s":"r","x":-176,"y":46,"t":"","sub":"C-anti","sup":""},{"p":"CopOMe","s":"r","x":-7,"y":46,"t":"","sub":"C-syn","sup":""},{"p":"CopOMe","s":"r","x":-96,"y":39.3,"t":"TS","sub":"Co","sup":"II"},{"p":"CopOMe","s":"r","x":113,"y":37.6,"t":"TS","sub":"Co","sup":"I"},{"p":"CopOMe","s":"r","x":152.6,"y":29.3,"t":"LM","sub":"Co","sup":"I"},{"p":"CopOMe","s":"g","x":-89.7,"y":14.2,"t":"TS","sub":"Me","sup":"I"},{"p":"CopOMe","s":"g","x":100.5,"y":14.2,"t":"TS","sub":"Me","sup":"II"},{"p":"CopOMe","s":"b","x":-71,"y":7.1,"t":"TS","sub":"pOMe","sup":"II"},{"p":"CopOMe","s":"b","x":110,"y":8,"t":"TS","sub":"pOMe","sup":"II"},{"p":"CopOMe","s":"b","x":-143,"y":2.6,"t":"P","sub":"pOMe","sup":"I"},{"p":"CopOMe","s":"b","x":45,"y":2.6,"t":"P","sub":"pOMe","sup":"II"},{"p":"CopOMe","s":"b","x":-105,"y":-2,"t":"GM","sub":"pOMe","sup":"I"},{"p":"CopOMe","s":"b","x":67,"y":-2,"t":"GM","sub":"pOMe","sup":"II"},{"p":"CopOMe","s":"b","x":152.6,"y":-2,"t":"GM","sub":"pOMe","sup":""},{"p":"CopOMe","s":"k","x":7,"y":-2.5,"t":"GM","sub":"","sup":"I"},

{"p":"ComOMe","s":"r","x":-180,"y":46,"t":"","sub":"C-anti","sup":""},{"p":"ComOMe","s":"r","x":-8,"y":46,"t":"","sub":"C-syn/","sup":""},{"p":"ComOMe","s":"b","x":17,"y":46,"t":"","sub":"O-syn","sup":""},{"p":"ComOMe","s":"b","x":135,"y":46,"t":"","sub":"O-anti","sup":""},{"p":"ComOMe","s":"r","x":-94,"y":37.9,"t":"TS","sub":"Co","sup":"II"},{"p":"ComOMe","s":"r","x":127,"y":38.3,"t":"TS","sub":"Co","sup":"I"},{"p":"ComOMe","s":"r","x":-151,"y":29.3,"t":"LM","sub":"Co","sup":""},{"p":"ComOMe","s":"g","x":-88,"y":16.3,"t":"TS","sub":"Me","sup":"II"},{"p":"ComOMe","s":"g","x":96,"y":15.2,"t":"TS","sub":"Me","sup":"I"},{"p":"ComOMe","s":"b","x":-112,"y":6.3,"t":"TS","sub":"mOMe","sup":"I"},{"p":"ComOMe","s":"b","x":72,"y":6.3,"t":"TS","sub":"mOMe","sup":"I"},{"p":"ComOMe","s":"b","x":-52,"y":3,"t":"P","sub":"mOMe","sup":"I"},{"p":"ComOMe","s":"b","x":127,"y":3,"t":"P","sub":"mOMe","sup":"II"},{"p":"ComOMe","s":"b","x":112,"y":-1.5,"t":"GM","sub":"mOMe","sup":""},{"p":"ComOMe","s":"k","x":1,"y":-1.5,"t":"GM","sub":"","sup":"I"},

{"p":"CooOMe","s":"r","x":-178,"y":57.5,"t":"","sub":"C-anti","sup":""},{"p":"CooOMe","s":"r","x":-22,"y":57.5,"t":"","sub":"C-syn","sup":""},{"p":"CooOMe","s":"b","x":-43,"y":50.3,"t":"TS","sub":"oOMe","sup":"II"},{"p":"CooOMe","s":"r","x":-88,"y":40.7,"t":"TS","sub":"Co","sup":"II"},{"p":"CooOMe","s":"r","x":116,"y":40.7,"t":"TS","sub":"Co","sup":"I"},{"p":"CooOMe","s":"r","x":-150.7,"y":29.8,"t":"LM","sub":"Co","sup":""},{"p":"CooOMe","s":"b","x":-1,"y":22.7,"t":"LM","sub":"oOMe:COCO","sup":""},{"p":"CooOMe","s":"g","x":163,"y":21,"t":"TS","sub":"Me","sup":""},{"p":"CooOMe","s":"b","x":105,"y":6,"t":"TS","sub":"oOMe","sup":""},{"p":"CooOMe","s":"b","x":-134,"y":-0.7,"t":"DGM","sub":"oOMe","sup":""},{"p":"CooOMe","s":"k","x":3,"y":-2.5,"t":"GM","sub":"","sup":"II"}
]
},
"columns":3,
"spacing":{"row":43,"column":19},
"bounds":"flush",
"resolve":{"scale":{"x":"independent","y":"independent","color":"independent","strokeDash":"independent"},"axis":{"x":"independent","y":"independent"},"legend":{"color":"independent","strokeDash":"independent"}},
"concat":[
{"width":196,"height":112,"title":{"text":"CppOMe"},
"encoding":{"x":{"field":"x","type":"quantitative","scale":{"domain":[-180,180],"nice":false,"zero":false},"axis":{"values":[-180,-120,-60,0,60,120,180],"title":"Dihedral angle (θ) / degrees"}},
"y":{"field":"y","type":"quantitative","scale":{"domain":[-2,28],"nice":false,"zero":false},"axis":{"values":[-2,0,2,4,6,8,10,12,14,16,18,20,22,24,26,28],"title":"Relative energy (ΔE) / kJ.mol⁻¹"}},
"color":{"field":"s","type":"nominal","scale":{"domain":["r","b","l","g","l2","k"],"range":["#ff0000","#0000ff","#9a9aff","#008000","#9a9aff","#000000"]},"legend":{"title":null,"values":["r","b","g"],"columns":3,"legendX":4,"legendY":-5,"labelExpr":"datum.value=='r'?'C26:C21:N1:C1 (Cp ring)':datum.value=='b'?'C15:C11:O2:C1 (pOMe ring)':'C15:C14:O14:C17 (OMe group)'"}}},
"layer":[
{"data":{"name":"c"},"transform":[{"filter":"datum.p=='CppOMe'"},{"fold":["r","b","l","g","l2"],"as":["s","y"]},{"filter":"isValid(datum.y)"}],"mark":{"type":"line","strokeWidth":1.3},"encoding":{"strokeDash":{"field":"s","type":"nominal","scale":{"domain":["r","b","l","g","l2","k"],"range":[[1,0],[7,3],[4,2],[6,2,1.5,2],[4,2],[1,0]]},"legend":{"title":null,"values":["r","b","g"],"columns":3,"legendX":4,"legendY":-5,"labelExpr":"datum.value=='r'?'C26:C21:N1:C1 (Cp ring)':datum.value=='b'?'C15:C11:O2:C1 (pOMe ring)':'C15:C14:O14:C17 (OMe group)'"}}}},
{"data":{"name":"d"},"transform":[{"filter":"datum.p=='CppOMe'"}],"mark":{"type":"circle","size":16,"opacity":1}},
{"data":{"name":"t"},"transform":[{"filter":"datum.p=='CppOMe'"}],"mark":{"type":"text","align":"right","baseline":"middle","fontSize":6.5,"fontWeight":"bold"},"encoding":{"text":{"field":"t"}}},
{"data":{"name":"t"},"transform":[{"filter":"datum.p=='CppOMe'"}],"mark":{"type":"text","align":"left","baseline":"top","fontSize":4.3,"fontWeight":"bold","dy":0.5},"encoding":{"text":{"field":"sub"}}},
{"data":{"name":"t"},"transform":[{"filter":"datum.p=='CppOMe'"}],"mark":{"type":"text","align":"left","baseline":"bottom","fontSize":4.3,"fontWeight":"bold","dy":-0.5},"encoding":{"text":{"field":"sup"}}}
]},
{"width":196,"height":112,"title":{"text":"CpmOMe"},
"encoding":{"x":{"field":"x","type":"quantitative","scale":{"domain":[-180,180],"nice":false,"zero":false},"axis":{"values":[-180,-120,-60,0,60,120,180],"title":"Dihedral angle (θ) / degrees"}},
"y":{"field":"y","type":"quantitative","scale":{"domain":[-2,28],"nice":false,"zero":false},"axis":{"values":[-2,0,2,4,6,8,10,12,14,16,18,20,22,24,26,28],"title":"Relative energy (ΔE) / kJ.mol⁻¹"}},
"color":{"field":"s","type":"nominal","scale":{"domain":["r","b","l","g","l2","k"],"range":["#ff0000","#0000ff","#9a9aff","#008000","#9a9aff","#000000"]},"legend":{"title":null,"values":["r","b","g"],"columns":3,"legendX":4,"legendY":-5,"labelExpr":"datum.value=='r'?'C26:C21:N1:C1 (Cp ring)':datum.value=='b'?'C15:C11:O2:C1 (mOMe ring)':'C15:C16:O16:C17 (OMe group)'"}}},
"layer":[
{"data":{"name":"c"},"transform":[{"filter":"datum.p=='CpmOMe'"},{"fold":["r","b","l","g","l2"],"as":["s","y"]},{"filter":"isValid(datum.y)"}],"mark":{"type":"line","strokeWidth":1.3},"encoding":{"strokeDash":{"field":"s","type":"nominal","scale":{"domain":["r","b","l","g","l2","k"],"range":[[1,0],[7,3],[4,2],[6,2,1.5,2],[4,2],[1,0]]},"legend":{"title":null,"values":["r","b","g"],"columns":3,"legendX":4,"legendY":-5,"labelExpr":"datum.value=='r'?'C26:C21:N1:C1 (Cp ring)':datum.value=='b'?'C15:C11:O2:C1 (mOMe ring)':'C15:C16:O16:C17 (OMe group)'"}}}},
{"data":{"name":"d"},"transform":[{"filter":"datum.p=='CpmOMe'"}],"mark":{"type":"circle","size":16,"opacity":1}},
{"data":{"name":"t"},"transform":[{"filter":"datum.p=='CpmOMe'"}],"mark":{"type":"text","align":"right","baseline":"middle","fontSize":6.5,"fontWeight":"bold"},"encoding":{"text":{"field":"t"}}},
{"data":{"name":"t"},"transform":[{"filter":"datum.p=='CpmOMe'"}],"mark":{"type":"text","align":"left","baseline":"top","fontSize":4.3,"fontWeight":"bold","dy":0.5},"encoding":{"text":{"field":"sub"}}},
{"data":{"name":"t"},"transform":[{"filter":"datum.p=='CpmOMe'"}],"mark":{"type":"text","align":"left","baseline":"bottom","fontSize":4.3,"fontWeight":"bold","dy":-0.5},"encoding":{"text":{"field":"sup"}}}
]},
{"width":196,"height":112,"title":{"text":"CpoOMe"},
"encoding":{"x":{"field":"x","type":"quantitative","scale":{"domain":[-180,180],"nice":false,"zero":false},"axis":{"values":[-180,-120,-60,0,60,120,180],"title":"Dihedral angle (θ) / degrees"}},
"y":{"field":"y","type":"quantitative","scale":{"domain":[-5,60],"nice":false,"zero":false},"axis":{"values":[-5,0,5,10,15,20,25,30,35,40,45,50,55,60],"title":"Relative energy (ΔE) / kJ.mol⁻¹"}},
"color":{"field":"s","type":"nominal","scale":{"domain":["r","b","l","g","l2","k"],"range":["#ff0000","#1a1aff","#9a9aff","#008000","#9a9aff","#000000"]},"legend":{"title":null,"values":["r","b","l","g"],"columns":4,"legendX":4,"legendY":-5,"labelExpr":"datum.value=='r'?'C26:C21:N1:C1 (Cp ring)':datum.value=='b'?'C16:C11:O2:C1 (oOMe ring)':datum.value=='l'?'oOMe:COCO':'C15:C14:O14:C17 (OMe group)'"}}},
"layer":[
{"data":{"name":"c"},"transform":[{"filter":"datum.p=='CpoOMe'"},{"fold":["r","b","l","g","l2"],"as":["s","y"]},{"filter":"isValid(datum.y)"}],"mark":{"type":"line","strokeWidth":1.3},"encoding":{"strokeDash":{"field":"s","type":"nominal","scale":{"domain":["r","b","l","g","l2","k"],"range":[[1,0],[7,2,1.5,2],[5,2],[6,3,1.5,3],[5,2],[1,0]]},"legend":{"title":null,"values":["r","b","l","g"],"columns":4,"legendX":4,"legendY":-5,"labelExpr":"datum.value=='r'?'C26:C21:N1:C1 (Cp ring)':datum.value=='b'?'C16:C11:O2:C1 (oOMe ring)':datum.value=='l'?'oOMe:COCO':'C15:C14:O14:C17 (OMe group)'"}}}},
{"data":{"name":"d"},"transform":[{"filter":"datum.p=='CpoOMe'"}],"mark":{"type":"circle","size":16,"opacity":1}},
{"data":{"name":"t"},"transform":[{"filter":"datum.p=='CpoOMe'"}],"mark":{"type":"text","align":"right","baseline":"middle","fontSize":6.5,"fontWeight":"bold"},"encoding":{"text":{"field":"t"}}},
{"data":{"name":"t"},"transform":[{"filter":"datum.p=='CpoOMe'"}],"mark":{"type":"text","align":"left","baseline":"top","fontSize":4.3,"fontWeight":"bold","dy":0.5},"encoding":{"text":{"field":"sub"}}},
{"data":{"name":"t"},"transform":[{"filter":"datum.p=='CpoOMe'"}],"mark":{"type":"text","align":"left","baseline":"bottom","fontSize":4.3,"fontWeight":"bold","dy":-0.5},"encoding":{"text":{"field":"sup"}}}
]},
{"width":196,"height":112,"title":{"text":"CmpOMe"},
"encoding":{"x":{"field":"x","type":"quantitative","scale":{"domain":[-180,180],"nice":false,"zero":false},"axis":{"values":[-180,-120,-60,0,60,120,180],"title":"Dihedral angle (θ) / degrees"}},
"y":{"field":"y","type":"quantitative","scale":{"domain":[-2,22],"nice":false,"zero":false},"axis":{"values":[-2,0,2,4,6,8,10,12,14,16,18,20,22],"title":"Relative energy (ΔE) / kJ.mol⁻¹"}},
"color":{"field":"s","type":"nominal","scale":{"domain":["r","b","l","g","l2","k"],"range":["#ff0000","#0000ff","#9a9aff","#008000","#9a9aff","#000000"]},"legend":{"title":null,"values":["r","b","g"],"columns":3,"legendX":4,"legendY":-5,"labelExpr":"datum.value=='r'?'C26:C21:N1:C1 (Cm ring)':datum.value=='b'?'C15:C11:O2:C1 (pOMe ring)':'C15:C16:O16:C17 (OMe group)'"}}},
"layer":[
{"data":{"name":"c"},"transform":[{"filter":"datum.p=='CmpOMe'"},{"fold":["r","b","l","g","l2"],"as":["s","y"]},{"filter":"isValid(datum.y)"}],"mark":{"type":"line","strokeWidth":1.3},"encoding":{"strokeDash":{"field":"s","type":"nominal","scale":{"domain":["r","b","l","g","l2","k"],"range":[[1,0],[7,3],[4,2],[6,2,1.5,2],[4,2],[1,0]]},"legend":{"title":null,"values":["r","b","g"],"columns":3,"legendX":4,"legendY":-5,"labelExpr":"datum.value=='r'?'C26:C21:N1:C1 (Cm ring)':datum.value=='b'?'C15:C11:O2:C1 (pOMe ring)':'C15:C16:O16:C17 (OMe group)'"}}}},
{"data":{"name":"d"},"transform":[{"filter":"datum.p=='CmpOMe'"}],"mark":{"type":"circle","size":16,"opacity":1}},
{"data":{"name":"t"},"transform":[{"filter":"datum.p=='CmpOMe'"}],"mark":{"type":"text","align":"right","baseline":"middle","fontSize":6.5,"fontWeight":"bold"},"encoding":{"text":{"field":"t"}}},
{"data":{"name":"t"},"transform":[{"filter":"datum.p=='CmpOMe'"}],"mark":{"type":"text","align":"left","baseline":"top","fontSize":4.3,"fontWeight":"bold","dy":0.5},"encoding":{"text":{"field":"sub"}}},
{"data":{"name":"t"},"transform":[{"filter":"datum.p=='CmpOMe'"}],"mark":{"type":"text","align":"left","baseline":"bottom","fontSize":4.3,"fontWeight":"bold","dy":-0.5},"encoding":{"text":{"field":"sup"}}}
]},
{"width":196,"height":112,"title":{"text":"CmmOMe"},
"encoding":{"x":{"field":"x","type":"quantitative","scale":{"domain":[-180,180],"nice":false,"zero":false},"axis":{"values":[-180,-120,-60,0,60,120,180],"title":"Dihedral angle (θ) / degrees"}},
"y":{"field":"y","type":"quantitative","scale":{"domain":[-2,22],"nice":false,"zero":false},"axis":{"values":[-2,0,2,4,6,8,10,12,14,16,18,20,22],"title":"Relative energy (ΔE) / kJ.mol⁻¹"}},
"color":{"field":"s","type":"nominal","scale":{"domain":["r","b","l","g","l2","k"],"range":["#ff0000","#0000ff","#9a9aff","#008000","#9a9aff","#000000"]},"legend":{"title":null,"values":["r","b","g"],"columns":3,"legendX":4,"legendY":-5,"labelExpr":"datum.value=='r'?'C26:C21:N1:C1 (Cm ring)':datum.value=='b'?'C15:C11:O2:C1 (mOMe ring)':'C15:C14:O14:C17 (OMe group)'"}}},
"layer":[
{"data":{"name":"c"},"transform":[{"filter":"datum.p=='CmmOMe'"},{"fold":["r","b","l","g","l2"],"as":["s","y"]},{"filter":"isValid(datum.y)"}],"mark":{"type":"line","strokeWidth":1.3},"encoding":{"strokeDash":{"field":"s","type":"nominal","scale":{"domain":["r","b","l","g","l2","k"],"range":[[1,0],[7,3],[4,2],[6,2,1.5,2],[4,2],[1,0]]},"legend":{"title":null,"values":["r","b","g"],"columns":3,"legendX":4,"legendY":-5,"labelExpr":"datum.value=='r'?'C26:C21:N1:C1 (Cm ring)':datum.value=='b'?'C15:C11:O2:C1 (mOMe ring)':'C15:C14:O14:C17 (OMe group)'"}}}},
{"data":{"name":"d"},"transform":[{"filter":"datum.p=='CmmOMe'"}],"mark":{"type":"circle","size":16,"opacity":1}},
{"data":{"name":"t"},"transform":[{"filter":"datum.p=='CmmOMe'"}],"mark":{"type":"text","align":"right","baseline":"middle","fontSize":6.5,"fontWeight":"bold"},"encoding":{"text":{"field":"t"}}},
{"data":{"name":"t"},"transform":[{"filter":"datum.p=='CmmOMe'"}],"mark":{"type":"text","align":"left","baseline":"top","fontSize":4.3,"fontWeight":"bold","dy":0.5},"encoding":{"text":{"field":"sub"}}},
{"data":{"name":"t"},"transform":[{"filter":"datum.p=='CmmOMe'"}],"mark":{"type":"text","align":"left","baseline":"bottom","fontSize":4.3,"fontWeight":"bold","dy":-0.5},"encoding":{"text":{"field":"sup"}}}
]},
{"width":196,"height":112,"title":{"text":"CmoOMe"},
"encoding":{"x":{"field":"x","type":"quantitative","scale":{"domain":[-180,180],"nice":false,"zero":false},"axis":{"values":[-180,-120,-60,0,60,120,180],"title":"Dihedral angle (θ) / degrees"}},
"y":{"field":"y","type":"quantitative","scale":{"domain":[-5,60],"nice":false,"zero":false},"axis":{"values":[-5,0,5,10,15,20,25,30,35,40,45,50,55,60],"title":"Relative energy (ΔE) / kJ.mol⁻¹"}},
"color":{"field":"s","type":"nominal","scale":{"domain":["r","b","l","g","l2","k"],"range":["#ff0000","#1a1aff","#9a9aff","#008000","#9a9aff","#000000"]},"legend":{"title":null,"values":["r","l","b","g"],"columns":2,"columnPadding":40,"legendX":24,"legendY":-5,"labelExpr":"datum.value=='r'?'C26:C21:N1:C1 (Cm ring)':datum.value=='b'?'C16:C11:O2:C1 (oOMe)':datum.value=='l'?'oOMe:COCO':'C15:C14:O14:C17 (OMe group)'"}}},
"layer":[
{"data":{"name":"c"},"transform":[{"filter":"datum.p=='CmoOMe'"},{"fold":["r","b","l","g","l2"],"as":["s","y"]},{"filter":"isValid(datum.y)"}],"mark":{"type":"line","strokeWidth":1.3},"encoding":{"strokeDash":{"field":"s","type":"nominal","scale":{"domain":["r","b","l","g","l2","k"],"range":[[1,0],[7,2,1.5,2],[5,2],[6,3,1.5,3],[5,2],[1,0]]},"legend":{"title":null,"values":["r","l","b","g"],"columns":2,"columnPadding":40,"legendX":24,"legendY":-5,"labelExpr":"datum.value=='r'?'C26:C21:N1:C1 (Cm ring)':datum.value=='b'?'C16:C11:O2:C1 (oOMe)':datum.value=='l'?'oOMe:COCO':'C15:C14:O14:C17 (OMe group)'"}}}},
{"data":{"name":"d"},"transform":[{"filter":"datum.p=='CmoOMe'"}],"mark":{"type":"circle","size":16,"opacity":1}},
{"data":{"name":"t"},"transform":[{"filter":"datum.p=='CmoOMe'"}],"mark":{"type":"text","align":"right","baseline":"middle","fontSize":6.5,"fontWeight":"bold"},"encoding":{"text":{"field":"t"}}},
{"data":{"name":"t"},"transform":[{"filter":"datum.p=='CmoOMe'"}],"mark":{"type":"text","align":"left","baseline":"top","fontSize":4.3,"fontWeight":"bold","dy":0.5},"encoding":{"text":{"field":"sub"}}},
{"data":{"name":"t"},"transform":[{"filter":"datum.p=='CmoOMe'"}],"mark":{"type":"text","align":"left","baseline":"bottom","fontSize":4.3,"fontWeight":"bold","dy":-0.5},"encoding":{"text":{"field":"sup"}}}
]},
{"width":196,"height":112,"title":{"text":"CopOMe"},
"encoding":{"x":{"field":"x","type":"quantitative","scale":{"domain":[-180,180],"nice":false,"zero":false},"axis":{"values":[-180,-120,-60,0,60,120,180],"title":"Dihedral angle (θ) / degrees"}},
"y":{"field":"y","type":"quantitative","scale":{"domain":[-5,50],"nice":false,"zero":false},"axis":{"values":[-5,0,5,10,15,20,25,30,35,40,45,50],"title":"Relative energy (ΔE) / kJ.mol⁻¹"}},
"color":{"field":"s","type":"nominal","scale":{"domain":["r","b","l","g","l2","k"],"range":["#ff0000","#0000ff","#9a9aff","#008000","#9a9aff","#000000"]},"legend":{"title":null,"values":["r","b","g"],"columns":3,"legendX":4,"legendY":-5,"labelExpr":"datum.value=='r'?'C26:C21:N1:C1 (Co ring)':datum.value=='b'?'C15:C11:O2:C1 (pOMe ring)':'C15:C16:O16:C17 (OMe group)'"}}},
"layer":[
{"data":{"name":"c"},"transform":[{"filter":"datum.p=='CopOMe'"},{"fold":["r","b","l","g","l2"],"as":["s","y"]},{"filter":"isValid(datum.y)"}],"mark":{"type":"line","strokeWidth":1.3},"encoding":{"strokeDash":{"field":"s","type":"nominal","scale":{"domain":["r","b","l","g","l2","k"],"range":[[1,0],[7,3],[4,2],[6,2,1.5,2],[4,2],[1,0]]},"legend":{"title":null,"values":["r","b","g"],"columns":3,"legendX":4,"legendY":-5,"labelExpr":"datum.value=='r'?'C26:C21:N1:C1 (Co ring)':datum.value=='b'?'C15:C11:O2:C1 (pOMe ring)':'C15:C16:O16:C17 (OMe group)'"}}}},
{"data":{"name":"d"},"transform":[{"filter":"datum.p=='CopOMe'"}],"mark":{"type":"circle","size":16,"opacity":1}},
{"data":{"name":"t"},"transform":[{"filter":"datum.p=='CopOMe'"}],"mark":{"type":"text","align":"right","baseline":"middle","fontSize":6.5,"fontWeight":"bold"},"encoding":{"text":{"field":"t"}}},
{"data":{"name":"t"},"transform":[{"filter":"datum.p=='CopOMe'"}],"mark":{"type":"text","align":"left","baseline":"top","fontSize":4.3,"fontWeight":"bold","dy":0.5},"encoding":{"text":{"field":"sub"}}},
{"data":{"name":"t"},"transform":[{"filter":"datum.p=='CopOMe'"}],"mark":{"type":"text","align":"left","baseline":"bottom","fontSize":4.3,"fontWeight":"bold","dy":-0.5},"encoding":{"text":{"field":"sup"}}}
]},
{"width":196,"height":112,"title":{"text":"ComOMe"},
"encoding":{"x":{"field":"x","type":"quantitative","scale":{"domain":[-180,180],"nice":false,"zero":false},"axis":{"values":[-180,-120,-60,0,60,120,180],"title":"Dihedral angle (θ) / degrees"}},
"y":{"field":"y","type":"quantitative","scale":{"domain":[-5,50],"nice":false,"zero":false},"axis":{"values":[-5,0,5,10,15,20,25,30,35,40,45,50],"title":"Relative energy (ΔE) / kJ.mol⁻¹"}},
"color":{"field":"s","type":"nominal","scale":{"domain":["r","b","l","g","l2","k"],"range":["#ff0000","#0000ff","#9a9aff","#008000","#9a9aff","#000000"]},"legend":{"title":null,"values":["r","b","g"],"columns":3,"legendX":4,"legendY":-5,"labelExpr":"datum.value=='r'?'C26:C21:N1:C1 (Co ring)':datum.value=='b'?'C15:C11:O2:C1 (mOMe ring)':'C15:C14:O14:C17 (OMe group)'"}}},
"layer":[
{"data":{"name":"c"},"transform":[{"filter":"datum.p=='ComOMe'"},{"fold":["r","b","l","g","l2"],"as":["s","y"]},{"filter":"isValid(datum.y)"}],"mark":{"type":"line","strokeWidth":1.3},"encoding":{"strokeDash":{"field":"s","type":"nominal","scale":{"domain":["r","b","l","g","l2","k"],"range":[[1,0],[7,3],[4,2],[6,2,1.5,2],[4,2],[1,0]]},"legend":{"title":null,"values":["r","b","g"],"columns":3,"legendX":4,"legendY":-5,"labelExpr":"datum.value=='r'?'C26:C21:N1:C1 (Co ring)':datum.value=='b'?'C15:C11:O2:C1 (mOMe ring)':'C15:C14:O14:C17 (OMe group)'"}}}},
{"data":{"name":"d"},"transform":[{"filter":"datum.p=='ComOMe'"}],"mark":{"type":"circle","size":16,"opacity":1}},
{"data":{"name":"t"},"transform":[{"filter":"datum.p=='ComOMe'"}],"mark":{"type":"text","align":"right","baseline":"middle","fontSize":6.5,"fontWeight":"bold"},"encoding":{"text":{"field":"t"}}},
{"data":{"name":"t"},"transform":[{"filter":"datum.p=='ComOMe'"}],"mark":{"type":"text","align":"left","baseline":"top","fontSize":4.3,"fontWeight":"bold","dy":0.5},"encoding":{"text":{"field":"sub"}}},
{"data":{"name":"t"},"transform":[{"filter":"datum.p=='ComOMe'"}],"mark":{"type":"text","align":"left","baseline":"bottom","fontSize":4.3,"fontWeight":"bold","dy":-0.5},"encoding":{"text":{"field":"sup"}}}
]},
{"width":196,"height":112,"title":{"text":"CooOMe"},
"encoding":{"x":{"field":"x","type":"quantitative","scale":{"domain":[-180,180],"nice":false,"zero":false},"axis":{"values":[-180,-120,-60,0,60,120,180],"title":"Dihedral angle (θ) / degrees"}},
"y":{"field":"y","type":"quantitative","scale":{"domain":[-5,60],"nice":false,"zero":false},"axis":{"values":[-5,0,5,10,15,20,25,30,35,40,45,50,55,60],"title":"Relative energy (ΔE) / kJ.mol⁻¹"}},
"color":{"field":"s","type":"nominal","scale":{"domain":["r","b","l","g","l2","k"],"range":["#ff0000","#1a1aff","#9a9aff","#008000","#9a9aff","#000000"]},"legend":{"title":null,"values":["r","l","b","g"],"columns":2,"columnPadding":40,"legendX":24,"legendY":-5,"labelExpr":"datum.value=='r'?'C26:C21:N1:C1 (Co ring)':datum.value=='b'?'C16:C11:O2:C1 (oOMe ring)':datum.value=='l'?'oOMe:COCO':'C15:C14:O14:C17 (OMe group)'"}}},
"layer":[
{"data":{"name":"c"},"transform":[{"filter":"datum.p=='CooOMe'"},{"fold":["r","b","l","g","l2"],"as":["s","y"]},{"filter":"isValid(datum.y)"}],"mark":{"type":"line","strokeWidth":1.3},"encoding":{"strokeDash":{"field":"s","type":"nominal","scale":{"domain":["r","b","l","g","l2","k"],"range":[[1,0],[7,2,1.5,2],[5,2],[6,3,1.5,3],[5,2],[1,0]]},"legend":{"title":null,"values":["r","l","b","g"],"columns":2,"columnPadding":40,"legendX":24,"legendY":-5,"labelExpr":"datum.value=='r'?'C26:C21:N1:C1 (Co ring)':datum.value=='b'?'C16:C11:O2:C1 (oOMe ring)':datum.value=='l'?'oOMe:COCO':'C15:C14:O14:C17 (OMe group)'"}}}},
{"data":{"name":"d"},"transform":[{"filter":"datum.p=='CooOMe'"}],"mark":{"type":"circle","size":16,"opacity":1}},
{"data":{"name":"t"},"transform":[{"filter":"datum.p=='CooOMe'"}],"mark":{"type":"text","align":"right","baseline":"middle","fontSize":6.5,"fontWeight":"bold"},"encoding":{"text":{"field":"t"}}},
{"data":{"name":"t"},"transform":[{"filter":"datum.p=='CooOMe'"}],"mark":{"type":"text","align":"left","baseline":"top","fontSize":4.3,"fontWeight":"bold","dy":0.5},"encoding":{"text":{"field":"sub"}}},
{"data":{"name":"t"},"transform":[{"filter":"datum.p=='CooOMe'"}],"mark":{"type":"text","align":"left","baseline":"bottom","fontSize":4.3,"fontWeight":"bold","dy":-0.5},"encoding":{"text":{"field":"sup"}}}
]}
],
"config":{
"font":"Liberation Sans",
"view":{"stroke":"#222222","strokeWidth":0.8},
"axis":{"labelFont":"Liberation Sans","labelFontSize":4.5,"labelFontWeight":"bold","labelColor":"#000000","titleFont":"Liberation Sans","titleFontSize":4.3,"titleFontWeight":"bold","titleColor":"#000000","domainColor":"#000000","domainWidth":1,"tickColor":"#000000","tickSize":2,"tickWidth":0.8,"grid":false,"labelPadding":1,"titlePadding":2,"labelFlush":false,"labelOverlap":false},
"legend":{"orient":"none","direction":"horizontal","symbolType":"stroke","symbolSize":121,"symbolStrokeWidth":1.3,"labelFont":"Liberation Sans","labelFontSize":3,"labelFontWeight":"bold","labelColor":"#000000","labelOffset":2,"columnPadding":8,"rowPadding":1,"padding":0,"labelLimit":200},
"title":{"font":"Liberation Serif","fontSize":16.5,"fontWeight":"bold","color":"#141464","offset":1,"anchor":"middle"},
"text":{"font":"Liberation Sans"}
}
}
